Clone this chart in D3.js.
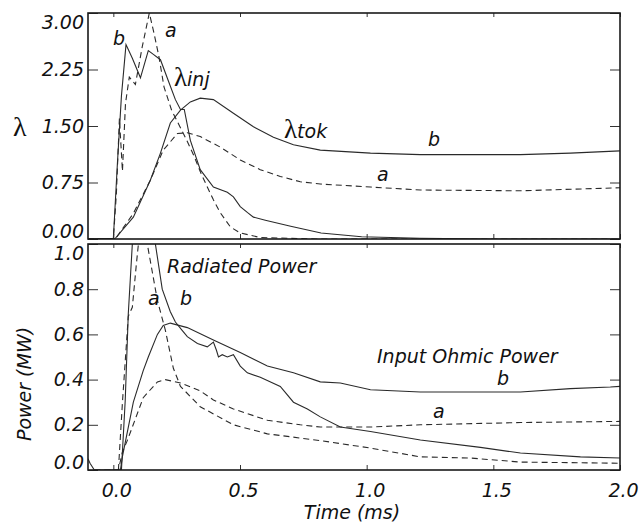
<!DOCTYPE html>
<html lang="en">
<head>
<meta charset="UTF-8">
<title>Lambda and power vs time</title>
<script src="https://d3js.org/d3.v7.min.js"></script>
<style>
  body { margin: 0; background: #fff; }
  svg text { font-family: "DejaVu Sans", sans-serif; font-style: italic; fill: #111; }
  .greek { font-family: "Liberation Serif", serif; font-style: normal; }
</style>
</head>
<body>
<svg id="chart" width="640" height="529"></svg>
<script>
// tick values
var timeTicks = [0, 0.5, 1.0, 1.5, 2.0];
var lamTicks = [0, 0.75, 1.5, 2.25, 3.0];
var powTicks = [0, 0.2, 0.4, 0.6, 0.8, 1.0];

// top panel: lambda, [time ms, value]
var injA = [[-0.1,0],[0,0],[0.012,0.6],[0.024,1.6],[0.036,0.9],[0.048,1.8],[0.063,2.15],[0.087,2.05],
  [0.114,2.55],[0.142,3.0],[0.16,2.74],[0.18,2.42],[0.2,2.02],[0.23,1.71],[0.26,1.51],[0.29,1.31],
  [0.32,1.09],[0.345,0.88],[0.371,0.69],[0.395,0.52],[0.422,0.35],[0.462,0.16],[0.501,0.08],
  [0.58,0.02],[0.8,0],[2.0,0]];
var injB = [[-0.1,0],[0,0],[0.016,1.0],[0.032,1.9],[0.05,2.58],[0.075,2.4],[0.107,2.14],[0.138,2.5],
  [0.158,2.45],[0.186,2.38],[0.217,2.1],[0.245,1.85],[0.265,1.72],[0.28,1.72],[0.304,1.31],
  [0.343,0.92],[0.395,0.69],[0.45,0.62],[0.474,0.56],[0.501,0.43],[0.53,0.35],[0.553,0.29],
  [0.6,0.25],[0.7,0.17],[0.82,0.08],[0.98,0.03],[1.21,0.01],[1.5,0],[2.0,0]];
var tokA = [[-0.1,0],[0.008,0],[0.079,0.34],[0.146,0.78],[0.197,1.18],[0.253,1.40],[0.292,1.41],
  [0.343,1.36],[0.422,1.22],[0.501,1.05],[0.58,0.92],[0.659,0.83],[0.738,0.76],[0.817,0.73],
  [1.015,0.69],[1.212,0.65],[1.607,0.64],[2.0,0.68]];
var tokB = [[-0.1,0],[0.008,0.01],[0.079,0.29],[0.146,0.78],[0.186,1.14],[0.225,1.54],[0.265,1.71],
  [0.304,1.82],[0.343,1.87],[0.395,1.85],[0.474,1.67],[0.553,1.49],[0.632,1.35],[0.711,1.25],
  [0.817,1.18],[1.015,1.14],[1.212,1.12],[1.607,1.12],[1.804,1.14],[2.0,1.17]];

// bottom panel: power (MW), [time ms, value]
var radA = [[0.02,0],[0.036,0.3],[0.059,0.68],[0.075,0.72],[0.09,0.9],[0.099,1.0],[0.116,1.06],
  [0.134,1.0],[0.174,0.75],[0.205,0.62],[0.237,0.45],[0.265,0.37],[0.343,0.28],[0.474,0.20],
  [0.608,0.16],[0.817,0.13],[1.015,0.097],[1.212,0.058],[1.409,0.053],[1.607,0.035],[2.0,0.03]];
var radB = [[0.032,0],[0.047,0.31],[0.059,0.69],[0.075,1.0],[0.09,1.25],[0.12,1.3],[0.15,1.15],
  [0.166,1.0],[0.193,0.8],[0.225,0.70],[0.245,0.655],[0.27,0.62],[0.292,0.59],[0.332,0.56],
  [0.371,0.545],[0.395,0.566],[0.407,0.53],[0.415,0.50],[0.43,0.51],[0.45,0.50],[0.474,0.51],
  [0.501,0.46],[0.529,0.43],[0.58,0.41],[0.659,0.37],[0.711,0.30],[0.766,0.27],[0.817,0.235],
  [0.896,0.19],[1.015,0.17],[1.212,0.133],[1.449,0.10],[1.607,0.075],[1.844,0.058],[2.0,0.053]];
var ohmA = [[-0.075,0],[0.02,0],[0.036,0.08],[0.055,0.13],[0.118,0.32],[0.174,0.39],[0.205,0.40],
  [0.265,0.385],[0.343,0.35],[0.395,0.31],[0.474,0.27],[0.608,0.22],[0.738,0.2],[0.817,0.19],
  [1.015,0.19],[1.212,0.20],[1.607,0.21],[2.0,0.215]];
var ohmB = [[-0.1,0.05],[-0.092,0.03],[-0.075,0],[0.028,0],[0.036,0.06],[0.079,0.30],[0.118,0.44],
  [0.138,0.5],[0.174,0.6],[0.197,0.64],[0.225,0.65],[0.292,0.63],[0.395,0.575],[0.501,0.52],
  [0.608,0.46],[0.711,0.43],[0.817,0.39],[0.896,0.385],[1.015,0.355],[1.212,0.345],[1.607,0.345],
  [1.804,0.36],[1.962,0.367],[2.0,0.37]];

var svg = d3.select("#chart");
var left = 88, right = 620;

var x = d3.scaleLinear().domain([-0.1, 2.0]).range([left, right]);
var yLam = d3.scaleLinear().domain([0, 3]).range([239, 13]);
var yPow = d3.scaleLinear().domain([0, 1]).range([470, 244]);

function panel(id, y, fmt, ticks, series, showX) {
    var g = svg.append("g");
    var top = y.range()[1], bot = y.range()[0];

    g.append("clipPath").attr("id", id)
        .append("rect")
        .attr("x", left).attr("y", top)
        .attr("width", right - left).attr("height", bot - top);

    // curves
    var curves = g.append("g").attr("clip-path", "url(#" + id + ")");
    series.forEach(function(s) {
        curves.append("path")
            .datum(s.data)
            .attr("fill", "none")
            .attr("stroke", "#2a2a2a")
            .attr("stroke-width", 1.1)
            .attr("stroke-dasharray", s.dash ? "6,4" : null)
            .attr("d", d3.line().x(d => x(d[0])).y(d => y(d[1])));
    });

    // y axis, ticks pointing inside
    var yl = g.append("g").attr("transform", "translate(" + left + ",0)")
        .call(d3.axisLeft(y).tickValues(ticks).tickFormat(d3.format(fmt))
            .tickSizeInner(-10).tickSizeOuter(0).tickPadding(4));
    var yr = g.append("g").attr("transform", "translate(" + right + ",0)")
        .call(d3.axisRight(y).tickValues(ticks).tickFormat("")
            .tickSizeInner(-10).tickSizeOuter(0));

    var xt = g.append("g").attr("transform", "translate(0," + top + ")")
        .call(d3.axisTop(x).tickValues(timeTicks).tickFormat("").tickSizeInner(-4).tickSizeOuter(0));
    var xb = g.append("g").attr("transform", "translate(0," + bot + ")")
        .call(d3.axisBottom(x).tickValues(timeTicks)
            .tickFormat(showX ? d3.format(".1f") : "")
            .tickSizeInner(-5).tickSizeOuter(0).tickPadding(14));

    [yl, yr, xt, xb].forEach(function(a) {
        a.select(".domain").remove();
        a.selectAll("line").attr("stroke", "#333").attr("stroke-width", 1);
        a.selectAll("text")
            .attr("font-family", "DejaVu Sans, sans-serif")
            .attr("font-size", 19)
            .attr("font-style", "italic")
            .attr("fill", "#111");
    });
    xb.selectAll("text").attr("dx", 3);

    // end labels kept inside the panel height
    var labels = yl.selectAll("text");
    labels.filter(d => d === ticks[0]).attr("dy", -2);
    labels.filter(d => d === ticks[ticks.length - 1]).attr("dy", 15.5);

    // frame
    g.append("rect")
        .attr("x", left).attr("y", top)
        .attr("width", right - left).attr("height", bot - top)
        .attr("fill", "none").attr("stroke", "#1a1a1a").attr("stroke-width", 1.6);
    return g;
}

panel("clipTop", yLam, ".2f", lamTicks, [
    {data: tokB}, {data: tokA, dash: true}, {data: injB}, {data: injA, dash: true}
], false);
panel("clipBot", yPow, ".1f", powTicks, [
    {data: ohmB}, {data: ohmA, dash: true}, {data: radB}, {data: radA, dash: true}
], true);

// axis titles
svg.append("text").attr("class", "greek")
    .attr("x", 13).attr("y", 136)
    .style("font-size", "28px")
    .text("λ");
svg.append("text")
    .attr("transform", "translate(31,384) rotate(-90)")
    .attr("text-anchor", "middle")
    .style("font-size", "19px")
    .text("Power (MW)");
svg.append("text")
    .attr("x", 352).attr("y", 519)
    .attr("text-anchor", "middle")
    .style("font-size", "19px")
    .text("Time (ms)");

// curve annotations
function note(xp, yp, str, size) {
    return svg.append("text").attr("x", xp).attr("y", yp)
        .style("font-size", (size || 19) + "px").text(str);
}
function lamNote(xp, yp, sub) {
    var t = svg.append("text").attr("x", xp).attr("y", yp);
    t.append("tspan").attr("class", "greek").style("font-size", "27px").text("λ");
    t.append("tspan").style("font-size", "19px").text(sub);
}

note(113, 45, "b");
note(165, 37, "a");
lamNote(174, 86, "inj");
lamNote(284, 138, "tok");
note(428, 146, "b");
note(377, 181, "a");

note(167, 273, "Radiated Power");
note(148, 305, "a");
note(180, 305, "b");
note(377, 363, "Input Ohmic Power");
note(497, 385, "b");
note(433, 418, "a");
</script>
</body>
</html>
